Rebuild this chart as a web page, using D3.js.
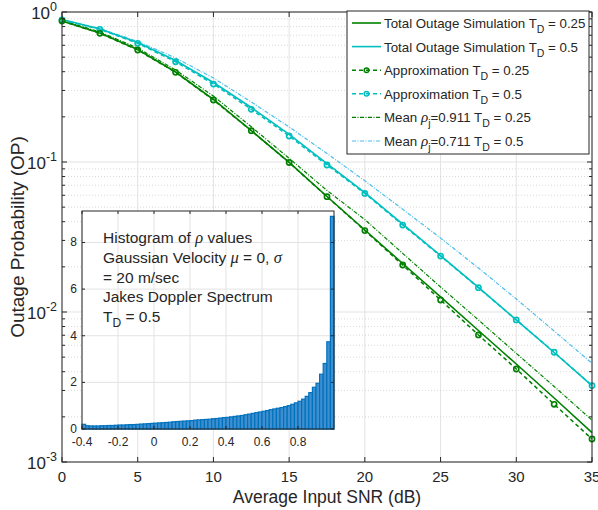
<!DOCTYPE html>
<html>
<head>
<meta charset="utf-8">
<script src="https://cdn.jsdelivr.net/npm/d3@7"></script>
<style>
  body { margin: 0; background: #fff; }
  text { font-family: "Liberation Sans", Arial, sans-serif; fill: #262626; }
  .gr { font-family: "Liberation Serif", "DejaVu Serif", serif; font-style: italic; }
</style>
</head>
<body>
<svg width="598" height="510"></svg>
<script>
// --- data ---
var snr = [0, 2.5, 5, 7.5, 10, 12.5, 15, 17.5, 20, 22.5, 25, 27.5, 30, 32.5, 35];
var simTD025 = [0.871, 0.724, 0.562, 0.398, 0.261, 0.162, 0.0995, 0.0589, 0.0352, 0.02105, 0.0126, 0.00753, 0.0045, 0.00267, 0.00157];
var simTD05 = [0.891, 0.770, 0.626, 0.475, 0.339, 0.231, 0.1526, 0.0977, 0.0626, 0.0386, 0.0238, 0.01457, 0.00885, 0.00537, 0.00323];
var apxTD025 = [0.871, 0.721, 0.558, 0.396, 0.259, 0.1617, 0.0992, 0.0587, 0.0349, 0.02057, 0.01202, 0.00703, 0.00417, 0.002425, 0.001423];
var apxTD05 = [0.8845, 0.767, 0.618, 0.466, 0.331, 0.2245, 0.149, 0.0955, 0.0617, 0.038, 0.0236, 0.01452, 0.00885, 0.00539, 0.00323];
var meanTD025 = [0.878, 0.736, 0.575, 0.411, 0.275, 0.1717, 0.1058, 0.0646, 0.0413, 0.0246, 0.01468, 0.00885, 0.0053, 0.00319, 0.0019];
var meanTD05 = [0.891, 0.776, 0.636, 0.494, 0.363, 0.2512, 0.1712, 0.1139, 0.0749, 0.0484, 0.0311, 0.01965, 0.01221, 0.00747, 0.00455];

var xTicks = [0, 5, 10, 15, 20, 25, 30, 35];
var yDecades = [-3, -2, -1, 0];

// histogram of rho, bins of 0.02 starting at -0.4
var binStart = -0.4, binWidth = 0.02;
var rhoDensity = [0.20, 0.14, 0.13, 0.13, 0.13, 0.14, 0.14, 0.15, 0.15, 0.16,
                  0.17, 0.17, 0.18, 0.19, 0.19, 0.20, 0.21, 0.22, 0.23, 0.24,
                  0.25, 0.26, 0.27, 0.28, 0.29, 0.31, 0.32, 0.33, 0.34, 0.35,
                  0.36, 0.38, 0.39, 0.40, 0.41, 0.42, 0.44, 0.45, 0.47, 0.49,
                  0.50, 0.52, 0.54, 0.56, 0.58, 0.61, 0.64, 0.67, 0.70, 0.73,
                  0.76, 0.79, 0.83, 0.86, 0.89, 0.92, 0.96, 1.00, 1.06, 1.12,
                  1.19, 1.28, 1.40, 1.56, 1.79, 1.96, 2.35, 2.81, 3.74, 9.12];
var insetXTicks = [-0.4, -0.2, 0, 0.2, 0.4, 0.6, 0.8];
var insetYTicks = [0, 2, 4, 6, 8];

var green = "#008000", cyan = "#00bfbf", sky = "#4dbeee", axc = "#262626";

var svg = d3.select("svg");

var x = d3.scaleLinear().domain([0, 35]).range([62, 592]);
var y = d3.scaleLog().domain([1e-3, 1]).range([462, 12]);

// grid
var grid = svg.append("g");
xTicks.forEach(function(t) {
  grid.append("line").attr("x1", x(t)).attr("x2", x(t)).attr("y1", 12).attr("y2", 462)
    .attr("stroke", "#e3e3e3").attr("stroke-width", 1);
});
yDecades.forEach(function(d) {
  grid.append("line").attr("x1", 62).attr("x2", 592).attr("y1", y(Math.pow(10, d))).attr("y2", y(Math.pow(10, d)))
    .attr("stroke", "#e3e3e3").attr("stroke-width", 1);
  if (d < 0) {
    for (var k = 2; k <= 9; k++) {
      var v = k * Math.pow(10, d);
      grid.append("line").attr("x1", 62).attr("x2", 592).attr("y1", y(v)).attr("y2", y(v))
        .attr("stroke", "#d0d0d0").attr("stroke-width", 0.8).attr("stroke-dasharray", "1,2");
    }
  }
});

// series
var line = d3.line().x(function(d, i) { return x(snr[i]); }).y(function(d) { return y(d); });

var series = [
  {vals: meanTD05, color: sky, w: 1.2, dash: "4,1.5,1,1.5"},
  {vals: meanTD025, color: green, w: 1.2, dash: "4,1.5,1,1.5"},
  {vals: simTD05, color: cyan, w: 1.6, dash: null},
  {vals: simTD025, color: green, w: 1.6, dash: null},
  {vals: apxTD05, color: cyan, w: 1.5, dash: "4,3", mark: true},
  {vals: apxTD025, color: green, w: 1.5, dash: "4,3", mark: true}
];

series.forEach(function(s) {
  svg.append("path").datum(s.vals).attr("d", line)
    .attr("fill", "none").attr("stroke", s.color).attr("stroke-width", s.w)
    .attr("stroke-dasharray", s.dash);
  if (s.mark) {
    svg.append("g").selectAll("circle").data(s.vals).enter().append("circle")
      .attr("cx", function(d, i) { return x(snr[i]); })
      .attr("cy", function(d) { return y(d); })
      .attr("r", 2.6).attr("fill", "none").attr("stroke", s.color).attr("stroke-width", 1.6);
  }
});

// axes box
svg.append("rect").attr("x", 62).attr("y", 12).attr("width", 530).attr("height", 450)
  .attr("fill", "none").attr("stroke", axc).attr("stroke-width", 1);

var ticks = svg.append("g").attr("stroke", axc).attr("stroke-width", 1);
xTicks.forEach(function(t) {
  ticks.append("line").attr("x1", x(t)).attr("x2", x(t)).attr("y1", 462).attr("y2", 457);
  ticks.append("line").attr("x1", x(t)).attr("x2", x(t)).attr("y1", 12).attr("y2", 17);
  svg.append("text").attr("x", x(t)).attr("y", 482).attr("text-anchor", "middle")
    .attr("font-size", 15).text(t);
});
yDecades.forEach(function(d) {
  var yy = y(Math.pow(10, d));
  ticks.append("line").attr("x1", 62).attr("x2", 67).attr("y1", yy).attr("y2", yy);
  ticks.append("line").attr("x1", 592).attr("x2", 587).attr("y1", yy).attr("y2", yy);
  if (d < 0) {
    for (var k = 2; k <= 9; k++) {
      var v = y(k * Math.pow(10, d));
      ticks.append("line").attr("x1", 62).attr("x2", 65).attr("y1", v).attr("y2", v);
      ticks.append("line").attr("x1", 592).attr("x2", 589).attr("y1", v).attr("y2", v);
    }
  }
  var t = svg.append("text").attr("x", 57).attr("y", yy + 7).attr("text-anchor", "end").attr("font-size", 17);
  t.append("tspan").text("10");
  t.append("tspan").attr("dy", -8).attr("font-size", 12.5).text(d);
});

svg.append("text").attr("x", 327).attr("y", 503).attr("text-anchor", "middle")
  .attr("font-size", 17.5).text("Average Input SNR (dB)");
svg.append("text").attr("transform", "translate(24,237) rotate(-90)").attr("text-anchor", "middle")
  .attr("font-size", 19).text("Outage Probability (OP)");

// legend
var lg = svg.append("g");
lg.append("rect").attr("x", 347).attr("y", 11).attr("width", 242).attr("height", 143)
  .attr("fill", "#fff").attr("stroke", axc).attr("stroke-width", 1);
var legendItems = [
  {color: green, w: 1.6, dash: null, parts: [["Total Outage Simulation T"], ["D", "sub"], [" = 0.25"]]},
  {color: cyan, w: 1.6, dash: null, parts: [["Total Outage Simulation T"], ["D", "sub"], [" = 0.5"]]},
  {color: green, w: 1.5, dash: "4,3", mark: true, parts: [["Approximation T"], ["D", "sub"], [" = 0.25"]]},
  {color: cyan, w: 1.5, dash: "4,3", mark: true, parts: [["Approximation T"], ["D", "sub"], [" = 0.5"]]},
  {color: green, w: 1.2, dash: "4,1.5,1,1.5", parts: [["Mean "], ["\u03c1", "gr"], ["j", "sub"], ["=0.911 T"], ["D", "sub"], [" = 0.25"]]},
  {color: sky, w: 1.2, dash: "4,1.5,1,1.5", parts: [["Mean "], ["\u03c1", "gr"], ["j", "sub"], ["=0.711 T"], ["D", "sub"], [" = 0.5"]]}
];
legendItems.forEach(function(it, i) {
  var yy = 23 + i * 23.6;
  lg.append("line").attr("x1", 352).attr("x2", 381).attr("y1", yy).attr("y2", yy)
    .attr("stroke", it.color).attr("stroke-width", it.w).attr("stroke-dasharray", it.dash);
  if (it.mark) {
    lg.append("circle").attr("cx", 366.5).attr("cy", yy).attr("r", 2.3)
      .attr("fill", "none").attr("stroke", it.color).attr("stroke-width", 1.5);
  }
  var t = lg.append("text").attr("x", 384).attr("y", yy + 5).attr("font-size", 13.3);
  var low = false;
  it.parts.forEach(function(p) {
    var ts = t.append("tspan").text(p[0]);
    if (p[1] === "sub") { ts.attr("dy", 5).attr("font-size", 10.5); low = true; }
    else if (low) { ts.attr("dy", -5); low = false; }
    if (p[1] === "gr") ts.attr("class", "gr").attr("font-size", 15);
  });
});

// inset histogram
var ix = d3.scaleLinear().domain([-0.4, 1.0]).range([82, 334]);
var iy = d3.scaleLinear().domain([0, 9.35]).range([429, 211]);
var ins = svg.append("g");
ins.append("rect").attr("x", 82).attr("y", 211).attr("width", 252).attr("height", 218).attr("fill", "#fff");
insetXTicks.forEach(function(t) {
  ins.append("line").attr("x1", ix(t)).attr("x2", ix(t)).attr("y1", 211).attr("y2", 429)
    .attr("stroke", "#e3e3e3");
});
insetYTicks.forEach(function(t) {
  ins.append("line").attr("x1", 82).attr("x2", 334).attr("y1", iy(t)).attr("y2", iy(t))
    .attr("stroke", "#e3e3e3");
});
ins.selectAll("rect.bar").data(rhoDensity).enter().append("rect").attr("class", "bar")
  .attr("x", function(d, i) { return ix(binStart + i * binWidth); })
  .attr("width", function(d, i) { return ix(binStart + (i + 1) * binWidth) - ix(binStart + i * binWidth); })
  .attr("y", function(d) { return iy(d); })
  .attr("height", function(d) { return iy(0) - iy(d); })
  .attr("fill", "#3f8fd0").attr("stroke", "#0072bd").attr("stroke-width", 1.2);

ins.append("rect").attr("x", 82).attr("y", 211).attr("width", 252).attr("height", 218)
  .attr("fill", "none").attr("stroke", axc).attr("stroke-width", 1);
insetXTicks.forEach(function(t) {
  ins.append("line").attr("x1", ix(t)).attr("x2", ix(t)).attr("y1", 429).attr("y2", 426).attr("stroke", axc);
  ins.append("line").attr("x1", ix(t)).attr("x2", ix(t)).attr("y1", 211).attr("y2", 214).attr("stroke", axc);
  ins.append("text").attr("x", ix(t)).attr("y", 446).attr("text-anchor", "middle")
    .attr("font-size", 12).text(t);
});
insetYTicks.forEach(function(t) {
  ins.append("line").attr("x1", 82).attr("x2", 85).attr("y1", iy(t)).attr("y2", iy(t)).attr("stroke", axc);
  ins.append("line").attr("x1", 334).attr("x2", 331).attr("y1", iy(t)).attr("y2", iy(t)).attr("stroke", axc);
  ins.append("text").attr("x", 77).attr("y", iy(t) + 4).attr("text-anchor", "end")
    .attr("font-size", 12).text(t);
});

var noteLines = [
  [["Histogram of "], ["\u03c1", "gr"], [" values"]],
  [["Gaussian Velocity "], ["\u03bc", "gr"], [" = 0, "], ["\u03c3", "gr"]],
  [["= 20 m/sec"]],
  [["Jakes Doppler Spectrum"]],
  [["T"], ["D", "sub"], [" = 0.5", "up"]]
];
noteLines.forEach(function(parts, i) {
  var t = ins.append("text").attr("x", 103).attr("y", 243 + i * 19.8).attr("font-size", 15.5);
  parts.forEach(function(p) {
    var ts = t.append("tspan").text(p[0]);
    if (p[1] === "gr") ts.attr("class", "gr").attr("font-size", 16.5);
    if (p[1] === "sub") ts.attr("dy", 5).attr("font-size", 12);
    if (p[1] === "up") ts.attr("dy", -5);
  });
});
</script>
</body>
</html>
